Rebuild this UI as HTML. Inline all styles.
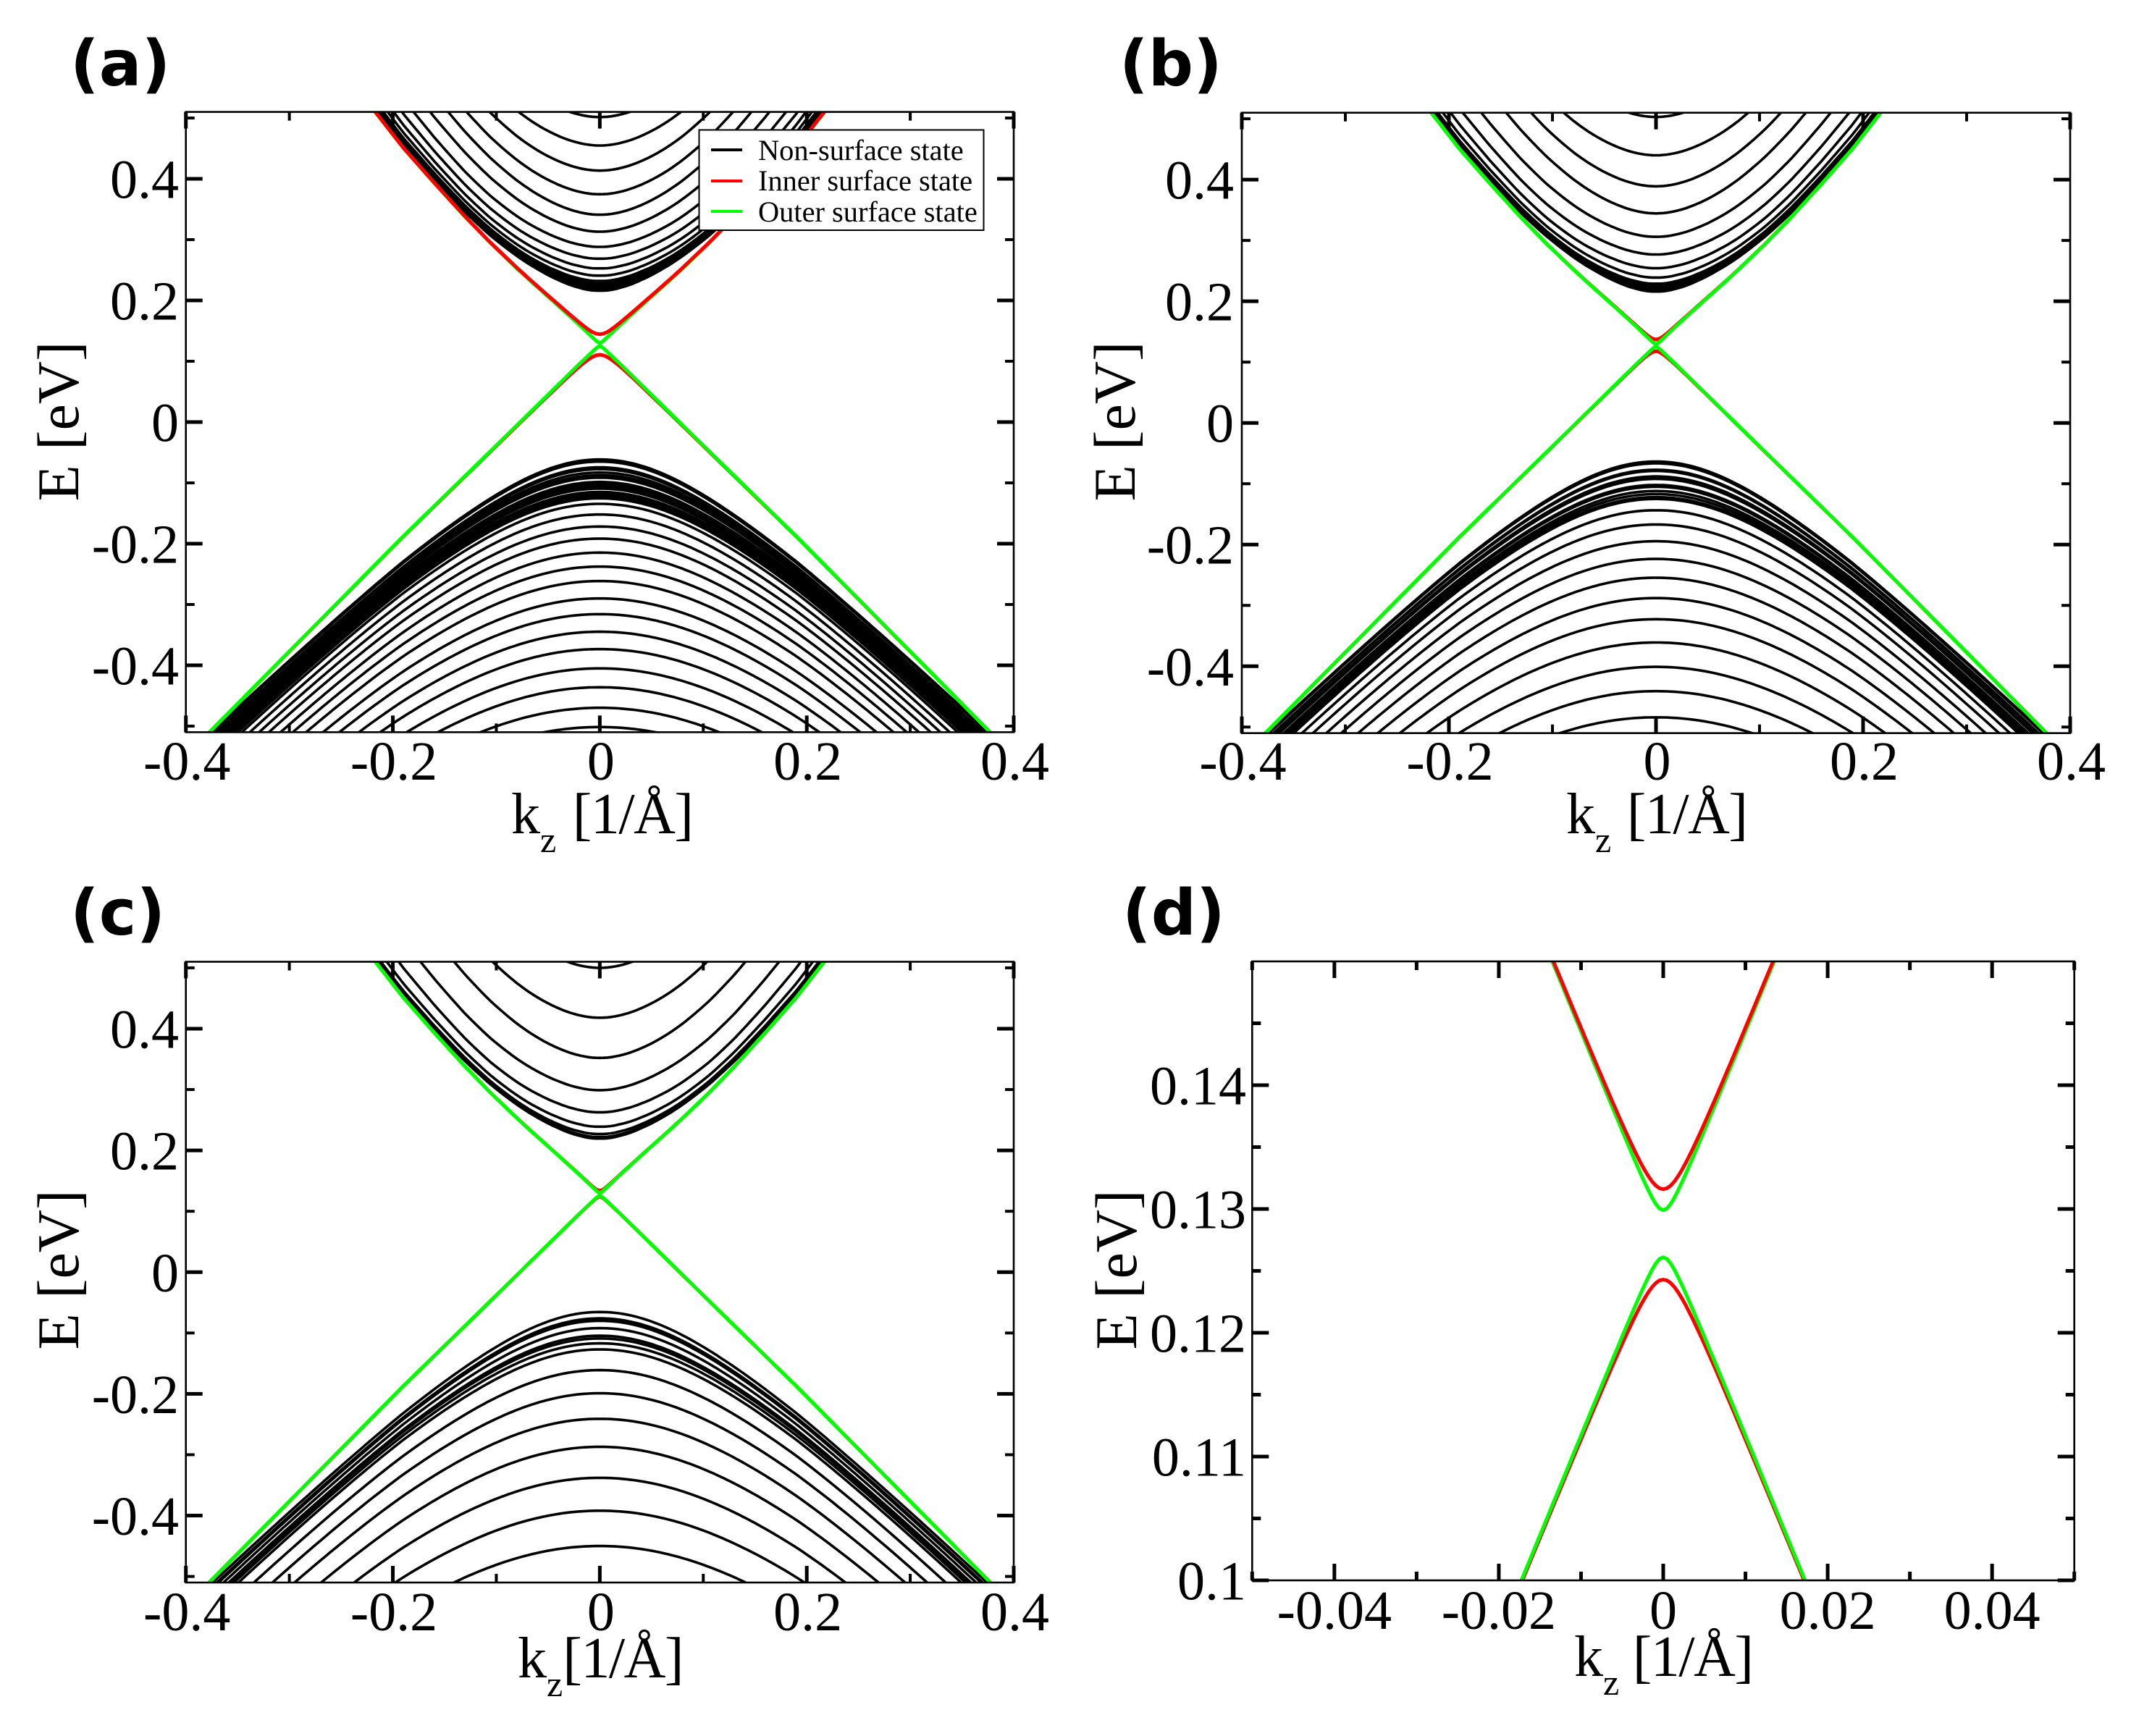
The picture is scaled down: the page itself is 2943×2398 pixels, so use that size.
<!DOCTYPE html>
<html lang="en">
<head>
<meta charset="utf-8">
<title>Band structure panels</title>
<style>
html,body{margin:0;padding:0;background:#fff;width:2943px;height:2398px;overflow:hidden;}
svg{display:block;overflow:hidden;}
text{font-family:"Liberation Serif",serif;fill:#000;}
.letter{font-family:"DejaVu Sans",sans-serif;font-weight:bold;font-size:87px;}
.axis-title{font-size:80px;}
.unit{letter-spacing:-1.5px;}
.y-title{font-size:82px;}
.tick-text{font-size:76px;}
.legend-text{font-size:40.4px;}
</style>
</head>
<body>
<svg id="chart" xmlns="http://www.w3.org/2000/svg" width="2943" height="2398" viewBox="0 0 2943 2398">
  <rect x="0" y="0" width="2943" height="2398" fill="#fff"/>
  <g id="plots"></g>

  <text class="letter" x="97" y="118">(a)</text>
  <text class="letter" x="1546" y="118">(b)</text>
  <text class="letter" x="97" y="1291">(c)</text>
  <text class="letter" x="1550" y="1291">(d)</text>

  <text class="axis-title" x="706" y="1151">k<tspan font-size="50" dy="26">z</tspan><tspan class="unit" dx="4" dy="-26"> [1/Å]</tspan></text>
  <text class="axis-title" x="2163" y="1151">k<tspan font-size="50" dy="26">z</tspan><tspan class="unit" dx="3" dy="-26"> [1/Å]</tspan></text>
  <text class="axis-title" x="715" y="2317">k<tspan font-size="50" dy="26">z</tspan><tspan class="unit" dy="-26">[1/Å]</tspan></text>
  <text class="axis-title" x="2174" y="2315">k<tspan font-size="50" dy="26">z</tspan><tspan class="unit" dy="-26"> [1/Å]</tspan></text>

  <text class="y-title" text-anchor="middle" transform="translate(108 582) rotate(-90)">E [eV]</text>
  <text class="y-title" text-anchor="middle" transform="translate(1567 582) rotate(-90)">E [eV]</text>
  <text class="y-title" text-anchor="middle" transform="translate(108 1754) rotate(-90)">E [eV]</text>
  <text class="y-title" text-anchor="middle" transform="translate(1569 1754) rotate(-90)">E [eV]</text>

  <g id="legend">
    <rect x="965.5" y="179.5" width="393" height="138.5" fill="#fff" stroke="#000" stroke-width="2"/>
    <line x1="982" x2="1025" y1="207" y2="207" stroke="#000" stroke-width="4"/>
    <text class="legend-text" x="1047" y="221">Non-surface state</text>
    <line x1="982" x2="1025" y1="250" y2="250" stroke="#ff0000" stroke-width="4"/>
    <text class="legend-text" x="1047" y="263">Inner surface state</text>
    <line x1="982" x2="1025" y1="292" y2="292" stroke="#00ff00" stroke-width="4"/>
    <text class="legend-text" x="1047" y="306">Outer surface state</text>
  </g>
</svg>

<script>
// ---- Values ----
// Surface-state dispersion: |k| and the energy distance from the Dirac point.
const surfaceK = [0, 0.02, 0.04, 0.0666, 0.08, 0.106, 0.13, 0.16, 0.19, 0.215, 0.25];
const conductionOffset = [0, 0.0325, 0.0635, 0.104, 0.125, 0.1675, 0.2095, 0.2655, 0.3235, 0.378, 0.455];
const valenceK = [0, 0.02, 0.1, 0.19, 0.3, 0.378, 0.42];
const valenceOffset = [0, 0.0324, 0.166, 0.3154, 0.5046, 0.6388, 0.711];

// How far the lowest conduction bands have closed on the surface state with |k|.
const bundleK = [0, 0.02, 0.04, 0.06, 0.08, 0.1, 0.12, 0.14, 0.16, 0.2, 0.25];
const bundleClosure = [1, 0.99, 0.96, 0.91, 0.84, 0.76, 0.68, 0.61, 0.55, 0.47, 0.4];

// Band energies at k = 0, panel (a)
const panelAConduction = [0.216, 0.218, 0.2205, 0.223, 0.2255, 0.228, 0.232, 0.2408, 0.2527, 0.2687, 0.2881, 0.3131, 0.3409, 0.3746, 0.4135, 0.4548, 0.5015];
const panelAValence = [-0.0615, -0.065, -0.0745, -0.0775, -0.083, -0.0875, -0.0915, -0.0985, -0.102, -0.106, -0.1095, -0.115, -0.119, -0.1225, -0.1255, -0.1345, -0.152, -0.1718, -0.1917, -0.2147, -0.2377, -0.2615, -0.2901, -0.3159, -0.3448, -0.3734, -0.4051, -0.4361, -0.4699, -0.5015];
const panelASurface = { inner: [0.1444, 0.1107], outer: [0.1295, 0.1255], dirac: 0.1275 };

// Band energies at k = 0, panel (b)
const panelBConduction = [0.216, 0.218, 0.22, 0.2225, 0.225, 0.229, 0.239, 0.2545, 0.277, 0.306, 0.3445, 0.389, 0.44, 0.503];
const panelBValence = [-0.0635, -0.0665, -0.077, -0.079, -0.088, -0.092, -0.102, -0.105, -0.112, -0.117, -0.122, -0.125, -0.1436, -0.167, -0.1945, -0.2236, -0.2545, -0.288, -0.3227, -0.361, -0.401, -0.441, -0.484];
const panelBSurface = { inner: [0.137, 0.118], outer: [0.1285, 0.1262], dirac: 0.1275 };

// Band energies at k = 0, panel (c)
const panelCConduction = [0.2195, 0.222, 0.227, 0.239, 0.2627, 0.299, 0.352, 0.418, 0.5];
const panelCValence = [-0.0655, -0.076, -0.08, -0.092, -0.1045, -0.109, -0.117, -0.127, -0.161, -0.199, -0.241, -0.287, -0.338, -0.392, -0.45];
const panelCSurface = { inner: [0.1335, 0.1245], outer: [0.1295, 0.1262], dirac: 0.128 };

// Band energies at k = 0, panel (d)
const panelDConduction = [];
const panelDValence = [];
const panelDSurface = { inner: [0.1316, 0.1243], outer: [0.1299, 0.1261], dirac: 0.128 };

// Axis ticks
const wideKMajor = [-0.4, -0.2, 0, 0.2, 0.4];
const wideKLabels = ["-0.4", "-0.2", "0", "0.2", "0.4"];
const wideKMinor = [-0.3, -0.1, 0.1, 0.3];
const wideEMajor = [-0.4, -0.2, 0, 0.2, 0.4];
const wideELabels = ["-0.4", "-0.2", "0", "0.2", "0.4"];
const wideEMinor = [-0.5, -0.3, -0.1, 0.1, 0.3, 0.5];
const zoomKMajor = [-0.04, -0.02, 0, 0.02, 0.04];
const zoomKLabels = ["-0.04", "-0.02", "0", "0.02", "0.04"];
const zoomKMinor = [-0.05, -0.03, -0.01, 0.01, 0.03, 0.05];
const zoomEMajor = [0.1, 0.11, 0.12, 0.13, 0.14];
const zoomELabels = ["0.1", "0.11", "0.12", "0.13", "0.14"];
const zoomEMinor = [0.105, 0.115, 0.125, 0.135, 0.145];

// ---- Rendering ----
const NS = "http://www.w3.org/2000/svg";
const plots = document.getElementById("plots");

function lookup(xs, ys, x) {
  for (let i = 1; i < xs.length; i++) {
    if (x <= xs[i]) {
      const t = (x - xs[i - 1]) / (xs[i] - xs[i - 1]);
      return ys[i - 1] + t * (ys[i] - ys[i - 1]);
    }
  }
  const n = xs.length - 1;
  return ys[n] + (x - xs[n]) * (ys[n] - ys[n - 1]) / (xs[n] - xs[n - 1]);
}

function bandEnergy(apex, dirac, k, isSurface) {
  const m = Math.abs(apex - dirac);
  const up = apex > dirac;
  const ak = Math.abs(k);
  const f = up ? lookup(surfaceK, conductionOffset, ak) : lookup(valenceK, valenceOffset, ak);
  let r = 1;
  let M = m;
  if (!isSurface) {
    r = up ? Math.max(1, 1 + 2.6 * (m - 0.09)) : 0.96 + 0.5 * (m - 0.19);
    if (up) {
      const w = Math.min(1, Math.max(0, (0.2 - m) / 0.1));
      const d = ak >= 0.25 ? 0.4 : lookup(bundleK, bundleClosure, ak);
      M = m * (1 - (1 - d) * w);
    }
  }
  const offset = Math.sqrt(M * M + r * r * f * f);
  return up ? dirac + offset : dirac - offset;
}

function addBand(layer, cfg, apex, dirac, color, width, isSurface) {
  const step = cfg.kHalf / 110;
  const pts = [];
  for (let i = -110; i <= 110; i++) {
    const k = i * step;
    const e = bandEnergy(apex, dirac, k, isSurface);
    const py = cfg.y(e);
    // only keep the stretch of the curve near the plot window
    if (py >= cfg.top - 40 && py <= cfg.bottom + 40) {
      pts.push(cfg.x(k).toFixed(1) + "," + py.toFixed(1));
    }
  }
  const el = document.createElementNS(NS, "polyline");
  el.setAttribute("points", pts.join(" "));
  el.setAttribute("fill", "none");
  el.setAttribute("stroke", color);
  el.setAttribute("stroke-width", width);
  el.setAttribute("stroke-linejoin", "round");
  if (isSurface) {
    
  } else {
    
  }
  
  layer.appendChild(el);
}

function addTick(layer, x1, y1, x2, y2, width) {
  const el = document.createElementNS(NS, "line");
  el.setAttribute("x1", x1);
  el.setAttribute("y1", y1);
  el.setAttribute("x2", x2);
  el.setAttribute("y2", y2);
  el.setAttribute("stroke", "#000");
  el.setAttribute("stroke-width", width);
  
  
  layer.appendChild(el);
}

function addLabel(layer, x, y, anchor, str) {
  const el = document.createElementNS(NS, "text");
  el.setAttribute("x", x);
  el.setAttribute("y", y);
  el.setAttribute("text-anchor", anchor);
  el.setAttribute("class", "tick-text");
  
  
  el.textContent = str;
  layer.appendChild(el);
}

function drawPanel(cfg) {
  const g = document.createElementNS(NS, "g");
  
  
  plots.appendChild(g);

  const cx = (cfg.left + cfg.right) / 2;
  cfg.x = k => cx + k * (cfg.right - cfg.left) / (2 * cfg.kHalf);
  cfg.y = e => cfg.bottom - (e - cfg.eMin) * (cfg.bottom - cfg.top) / (cfg.eMax - cfg.eMin);

  const clip = document.createElementNS(NS, "clipPath");
  clip.setAttribute("id", "clip-" + cfg.id);
  const cr = document.createElementNS(NS, "rect");
  cr.setAttribute("x", cfg.left);
  cr.setAttribute("y", cfg.top);
  cr.setAttribute("width", cfg.right - cfg.left);
  cr.setAttribute("height", cfg.bottom - cfg.top);
  clip.appendChild(cr);
  g.appendChild(clip);

  const curves = document.createElementNS(NS, "g");
  curves.setAttribute("clip-path", "url(#clip-" + cfg.id + ")");
  
  
  g.appendChild(curves);

  cfg.conduction.forEach(a => addBand(curves, cfg, a, cfg.surface.dirac, "#000", 3.6, false));
  cfg.valence.forEach(a => addBand(curves, cfg, a, cfg.surface.dirac, "#000", 3.6, false));

  const s = cfg.surface;
  addBand(curves, cfg, s.inner[1], s.dirac, "#ff0000", 5, true);
  addBand(curves, cfg, s.outer[1], s.dirac, "#00ff00", 5, true);
  if (cfg.redOnTop) {
    addBand(curves, cfg, s.outer[0], s.dirac, "#00ff00", 5, true);
    addBand(curves, cfg, s.inner[0], s.dirac, "#ff0000", 5, true);
  } else {
    addBand(curves, cfg, s.inner[0], s.dirac, "#ff0000", 5, true);
    addBand(curves, cfg, s.outer[0], s.dirac, "#00ff00", 5, true);
  }

  const ticks = document.createElementNS(NS, "g");
  
  
  g.appendChild(ticks);

  const frame = document.createElementNS(NS, "rect");
  frame.setAttribute("x", cfg.left);
  frame.setAttribute("y", cfg.top);
  frame.setAttribute("width", cfg.right - cfg.left);
  frame.setAttribute("height", cfg.bottom - cfg.top);
  frame.setAttribute("fill", "none");
  frame.setAttribute("stroke", "#000");
  frame.setAttribute("stroke-width", 2.6);
  
  
  ticks.appendChild(frame);

  const major = 23, minor = 12;
  const mw = 5, nw = cfg.minorWidth;
  cfg.kMajor.forEach(v => {
    const x = cfg.x(v);
    addTick(ticks, x, cfg.top, x, cfg.top + major, mw);
    addTick(ticks, x, cfg.bottom, x, cfg.bottom - major, mw);
  });
  cfg.kMinor.forEach(v => {
    const x = cfg.x(v);
    addTick(ticks, x, cfg.top, x, cfg.top + minor, nw);
    addTick(ticks, x, cfg.bottom, x, cfg.bottom - minor, nw);
  });
  cfg.eMajor.forEach(v => {
    const y = cfg.y(v);
    addTick(ticks, cfg.left, y, cfg.left + major, y, mw);
    addTick(ticks, cfg.right, y, cfg.right - major, y, mw);
  });
  cfg.eMinor.forEach(v => {
    const y = cfg.y(v);
    addTick(ticks, cfg.left, y, cfg.left + minor, y, nw);
    addTick(ticks, cfg.right, y, cfg.right - minor, y, nw);
  });

  cfg.kMajor.forEach((v, i) => addLabel(ticks, cfg.x(v) + cfg.labelDx, cfg.xLabelBase, "middle", cfg.kLabels[i]));
  cfg.eMajor.forEach((v, i) => addLabel(ticks, cfg.yLabelRight, cfg.y(v) + 26.5, "end", cfg.eLabels[i]));
}

const wideAxes = { kHalf: 0.4, eMin: -0.51, eMax: 0.51, kMajor: wideKMajor, kLabels: wideKLabels, kMinor: wideKMinor, eMajor: wideEMajor, eLabels: wideELabels, eMinor: wideEMinor, minorWidth: 4, labelDx: 1.5 };

drawPanel(Object.assign({}, wideAxes, { id: "a", left: 256.7, right: 1400, top: 154.6, bottom: 1011.4, conduction: panelAConduction, valence: panelAValence, surface: panelASurface, redOnTop: true, xLabelBase: 1077, yLabelRight: 247 }));
drawPanel(Object.assign({}, wideAxes, { id: "b", left: 1715, right: 2859, top: 155.7, bottom: 1012.7, conduction: panelBConduction, valence: panelBValence, surface: panelBSurface, redOnTop: false, xLabelBase: 1077, yLabelRight: 1704 }));
drawPanel(Object.assign({}, wideAxes, { id: "c", left: 256.7, right: 1400, top: 1328.5, bottom: 2186, conduction: panelCConduction, valence: panelCValence, surface: panelCSurface, redOnTop: false, xLabelBase: 2252, yLabelRight: 247 }));
drawPanel({ id: "d", kHalf: 0.05, eMin: 0.1, eMax: 0.15, left: 1729.3, right: 2864.7, top: 1328, bottom: 2183, kMajor: zoomKMajor, kLabels: zoomKLabels, kMinor: zoomKMinor, eMajor: zoomEMajor, eLabels: zoomELabels, eMinor: zoomEMinor, minorWidth: 5, labelDx: 0, conduction: panelDConduction, valence: panelDValence, surface: panelDSurface, redOnTop: true, xLabelBase: 2250, yLabelRight: 1721 });
</script>
</body>
</html>
